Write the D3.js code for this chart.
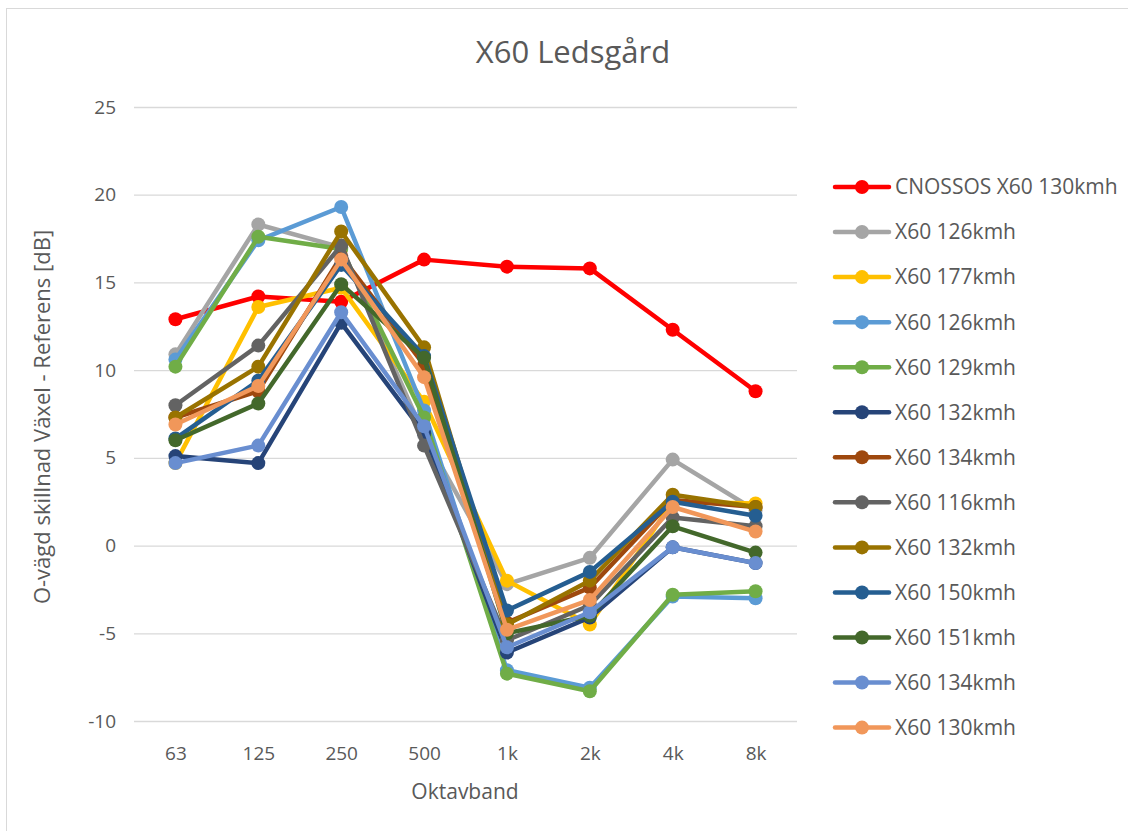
<!DOCTYPE html>
<html>
<head>
<meta charset="utf-8">
<script src="https://cdn.jsdelivr.net/npm/d3@7"></script>
<style>
  body { margin: 0; background: #fff; }
  svg, svg text { font-family: "Open Sans", sans-serif; }
</style>
</head>
<body>
<div id="chart"></div>
<script>
// ==========================
// Data
// ==========================
const bands = ["63", "125", "250", "500", "1k", "2k", "4k", "8k"];
const yTicks = [-10, -5, 0, 5, 10, 15, 20, 25];

const seriesNames = [
    "CNOSSOS X60 130kmh", "X60 126kmh", "X60 177kmh", "X60 126kmh",
    "X60 129kmh", "X60 132kmh", "X60 134kmh", "X60 116kmh",
    "X60 132kmh", "X60 150kmh", "X60 151kmh", "X60 134kmh", "X60 130kmh"
];

const seriesColors = [
    "#FF0000", "#A5A5A5", "#FFC000", "#5B9BD5",
    "#70AD47", "#264478", "#9E480E", "#636363",
    "#997300", "#255E91", "#43682B", "#698ED0", "#F1975A"
];

const cnossos130 = [12.9, 14.2, 13.9, 16.3, 15.9, 15.8, 12.3, 8.8];
const x60_126a = [10.9, 18.3, 17.0, 6.3, -2.2, -0.7, 4.9, 2.0];
const x60_177 = [4.7, 13.6, 14.7, 8.2, -2.0, -4.5, 2.5, 2.4];
const x60_126b = [10.6, 17.4, 19.3, 7.7, -7.1, -8.1, -2.9, -3.0];
const x60_129 = [10.2, 17.6, 16.9, 7.3, -7.3, -8.3, -2.8, -2.6];
const x60_132a = [5.1, 4.7, 12.7, 6.4, -6.1, -4.1, -0.1, -1.0];
const x60_134a = [7.3, 8.8, 16.5, 10.3, -4.4, -2.4, 2.6, 2.2];
const x60_116 = [8.0, 11.4, 17.1, 5.7, -5.4, -3.4, 1.6, 1.1];
const x60_132b = [7.3, 10.2, 17.9, 11.3, -4.5, -2.0, 2.9, 2.2];
const x60_150 = [6.1, 9.4, 16.0, 10.8, -3.7, -1.5, 2.5, 1.7];
const x60_151 = [6.0, 8.1, 14.9, 10.7, -5.0, -4.0, 1.1, -0.4];
const x60_134b = [4.7, 5.7, 13.3, 6.8, -5.8, -3.8, -0.1, -1.0];
const x60_130 = [6.9, 9.1, 16.3, 9.6, -4.8, -3.1, 2.2, 0.8];

const seriesValues = [
    cnossos130, x60_126a, x60_177, x60_126b, x60_129, x60_132a, x60_134a,
    x60_116, x60_132b, x60_150, x60_151, x60_134b, x60_130
];

const series = seriesNames.map((name, i) => ({
    name: name,
    color: seriesColors[i],
    values: seriesValues[i].map((v, j) => ({ band: bands[j], value: v }))
}));

// ==========================
// SVG Setup
// ==========================
const width = 1128;
const height = 831;
const margin = { top: 107, right: 331, bottom: 110, left: 134 };
const textColor = "#595959";

const svg = d3.select("#chart").append("svg")
    .attr("width", width)
    .attr("height", height);

// chart frame
svg.append("rect")
    .attr("x", 6.5)
    .attr("y", 8.5)
    .attr("width", width)
    .attr("height", height)
    .attr("fill", "none")
    .attr("stroke", "#d9d9d9");

// ==========================
// Scales
// ==========================
const xScale = d3.scalePoint()
    .domain(bands)
    .range([margin.left, width - margin.right])
    .padding(0.5);

const yScale = d3.scaleLinear()
    .domain([-10, 25])
    .range([height - margin.bottom, margin.top]);

// ==========================
// Grid + axes
// ==========================
const yAxis = d3.axisLeft(yScale)
    .tickValues(yTicks)
    .tickFormat(d => String(d))
    .tickSize(-(width - margin.left - margin.right))
    .tickPadding(18);

const yG = svg.append("g")
    .attr("transform", `translate(${margin.left},0)`)
    .call(yAxis)
    .attr("font-family", null)
    .attr("font-size", null);
yG.select(".domain").remove();
yG.selectAll(".tick line").attr("stroke", "#d9d9d9").attr("stroke-width", 1.3);
yG.selectAll(".tick text")
    .attr("fill", textColor)
    .style("font-size", "19px");

const xAxis = d3.axisBottom(xScale).tickSize(0).tickPadding(26);
const xG = svg.append("g")
    .attr("transform", `translate(0,${yScale(-10)})`)
    .call(xAxis)
    .attr("font-family", null)
    .attr("font-size", null);
xG.select(".domain").remove();
xG.selectAll(".tick text")
    .attr("fill", textColor)
    .style("font-size", "19px");

// ==========================
// Lines + markers
// ==========================
const line = d3.line()
    .x(d => xScale(d.band))
    .y(d => yScale(d.value));

const groups = svg.selectAll(".series")
    .data(series)
    .enter()
    .append("g")
    .attr("class", "series");

groups.append("path")
    .attr("d", d => line(d.values))
    .attr("fill", "none")
    .attr("stroke", d => d.color)
    .attr("stroke-width", 4.5)
    .attr("stroke-linejoin", "round");

groups.selectAll("circle")
    .data(d => d.values.map(v => ({ ...v, color: d.color })))
    .enter()
    .append("circle")
    .attr("cx", d => xScale(d.band))
    .attr("cy", d => yScale(d.value))
    .attr("r", 7)
    .attr("fill", d => d.color);

// ==========================
// Legend
// ==========================
const legend = svg.append("g")
    .attr("transform", "translate(835,187)");

const items = legend.selectAll(".item")
    .data(series)
    .enter()
    .append("g")
    .attr("class", "item")
    .attr("transform", (d, i) => `translate(0,${i * 45.05})`);

items.append("line")
    .attr("x1", 0)
    .attr("x2", 54)
    .attr("stroke", d => d.color)
    .attr("stroke-width", 4.5)
    .attr("stroke-linecap", "round");

items.append("circle")
    .attr("cx", 27)
    .attr("r", 7)
    .attr("fill", d => d.color);

items.append("text")
    .attr("x", 60)
    .attr("dy", "0.35em")
    .attr("fill", textColor)
    .style("font-size", "21px")
    .text(d => d.name);

// ==========================
// Titles
// ==========================
svg.append("text")
    .attr("x", 573)
    .attr("y", 63)
    .attr("text-anchor", "middle")
    .attr("fill", textColor)
    .style("font-size", "31px")
    .text("X60 Ledsgård");

svg.append("text")
    .attr("x", 465)
    .attr("y", 799)
    .attr("text-anchor", "middle")
    .attr("fill", textColor)
    .style("font-size", "21px")
    .text("Oktavband");

svg.append("text")
    .attr("transform", "translate(50,417) rotate(-90)")
    .attr("text-anchor", "middle")
    .attr("fill", textColor)
    .style("font-size", "22px")
    .text("O-vägd skillnad Växel - Referens [dB]");
</script>
</body>
</html>
